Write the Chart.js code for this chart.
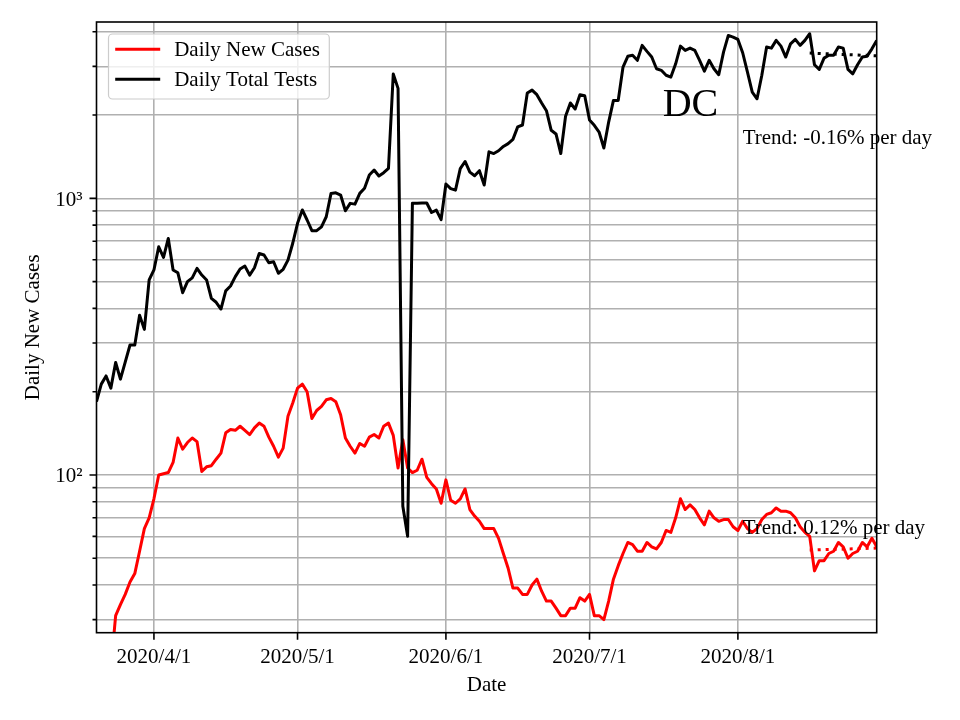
<!DOCTYPE html>
<html>
<head>
<meta charset="utf-8">
<script src="https://cdn.jsdelivr.net/npm/chart.js@4"></script>
<style>
  html, body { margin: 0; padding: 0; background: #fff; }
</style>
</head>
<body>
<canvas id="chart" width="960" height="720"></canvas>
<script>
// daily values, one per day starting at startDate
const startDate = "2020-03-20";

const newCases = [
  13, 15, 17, 20, 31, 34, 37, 41, 44, 53,
  64, 70, 82, 100, 101, 102, 111, 136, 124, 131,
  136, 132, 103, 107, 108, 114, 120, 142, 146, 145,
  150, 145, 140, 148, 154, 150, 137, 127, 116, 125,
  163, 182, 206, 213, 200, 160, 171, 177, 187, 189,
  184, 165, 136, 127, 120, 130, 127, 137, 140, 136,
  150, 154, 139, 106, 134, 106, 102, 104, 114, 98,
  93, 89, 79, 96, 81, 79, 82, 89, 75, 71,
  68, 64, 64, 64, 59, 52, 46, 39, 39, 37,
  37, 40, 42, 38, 35, 35, 33, 31, 31, 33,
  33, 36, 35, 37, 31, 31, 30, 35, 42, 47,
  52, 57, 56, 53, 53, 57, 55, 54, 57, 63,
  62, 70, 82, 75, 78, 75, 70, 66, 74, 70,
  68, 69, 69, 65, 63, 68, 64, 62, 64, 69,
  72, 73, 76, 74, 74, 73, 70, 65, 62, 60,
  45, 49, 49, 52, 53, 57, 55, 50, 52, 53,
  57, 55, 59, 55
];

const totalTests = [
  184, 213, 228, 206, 255, 222, 256, 295, 295, 378,
  336, 507, 551, 668, 612, 716, 551, 538, 456, 500,
  516, 558, 528, 507, 435, 421, 398, 463, 482, 521,
  555, 569, 528, 561, 632, 624, 585, 590, 536, 554,
  598, 688, 812, 908, 835, 764, 764, 789, 858, 1042,
  1047, 1028, 902, 959, 953, 1042, 1087, 1215, 1266, 1204,
  1238, 1283, 2814, 2498, 77, 60, 960, 960, 962, 962,
  889, 907, 838, 1127, 1084, 1071, 1280, 1359, 1244, 1207,
  1259, 1117, 1473, 1452, 1486, 1540, 1577, 1634, 1813, 1841,
  2404, 2462, 2370, 2212, 2074, 1762, 1709, 1452, 1982, 2212,
  2104, 2370, 2349, 1920, 1836, 1737, 1520, 1887, 2260, 2260,
  2983, 3262, 3289, 3155, 3573, 3398, 3242, 2940, 2903, 2786,
  2744, 3065, 3550, 3427, 3492, 3427, 3155, 2884, 3155, 2940,
  2799, 3379, 3881, 3828, 3755, 3360, 2860, 2422, 2291, 2786,
  3522, 3492, 3724, 3550, 3242, 3620, 3755, 3573, 3724, 3936,
  3040, 2926, 3214, 3289, 3289, 3522, 3492, 2926, 2820, 3040,
  3242, 3266, 3472, 3724
];

// fitted trend over the last two weeks
const trendDates = ["2020-08-16", "2020-08-30"];
const casesTrend = [53.5, 54.4];
const testsTrend = [3350, 3276];

const xTickDates = ["2020-04-01", "2020-05-01", "2020-06-01", "2020-07-01", "2020-08-01"];
const xTickLabels = ["2020/4/1", "2020/5/1", "2020/6/1", "2020/7/1", "2020/8/1"];
const yTicks = [30, 40, 50, 60, 70, 80, 90, 100, 200, 300, 400, 500, 600, 700, 800, 900, 1000, 2000, 3000, 4000];
const yTickLabels = { 100: "10\u00b2", 1000: "10\u00b3" };

const regionName = "DC";
const trendNotes = [
  { date: "2020-08-02", value: 1567, text: "Trend: -0.16% per day" },
  { date: "2020-08-02", value: 61, text: "Trend: 0.12% per day" },
];

const SERIF = '"Liberation Serif", "Times New Roman", serif';
const dayIndex = (d) => Math.round((Date.parse(d) - Date.parse(startDate)) / 86400000);
const toPoints = (vals) => vals.map((v, i) => ({ x: i, y: v }));
const trendPoints = (vals) => trendDates.map((d, i) => ({ x: dayIndex(d), y: vals[i] }));

const legendItems = [
  { label: "Daily New Cases", color: "#ff0000" },
  { label: "Daily Total Tests", color: "#000000" },
];

// spines, outward tick marks, legend box and text notes, matplotlib style
const decor = {
  id: "decor",
  afterDraw(chart) {
    const { ctx, chartArea: a, scales: { x, y } } = chart;
    ctx.save();

    ctx.strokeStyle = "#000";
    ctx.lineWidth = 1.6;
    ctx.beginPath();
    yTicks.forEach((v) => {
      const py = y.getPixelForValue(v);
      const len = yTickLabels[v] ? 7 : 4;
      ctx.moveTo(a.left - len, py);
      ctx.lineTo(a.left, py);
    });
    xTickDates.forEach((d) => {
      const px = x.getPixelForValue(dayIndex(d));
      ctx.moveTo(px, a.bottom);
      ctx.lineTo(px, a.bottom + 7);
    });
    ctx.stroke();
    ctx.strokeRect(a.left, a.top, a.right - a.left, a.bottom - a.top);

    // legend
    ctx.font = "21px " + SERIF;
    const lx = a.left + 12, ly = a.top + 12;
    const tw = Math.max(...legendItems.map((it) => ctx.measureText(it.label).width));
    const bw = 66 + tw + 9, bh = 65;
    ctx.beginPath();
    if (ctx.roundRect) ctx.roundRect(lx, ly, bw, bh, 4); else ctx.rect(lx, ly, bw, bh);
    ctx.fillStyle = "rgba(255,255,255,0.8)";
    ctx.fill();
    ctx.strokeStyle = "#cccccc";
    ctx.lineWidth = 1.2;
    ctx.stroke();
    legendItems.forEach((it, i) => {
      const cy = ly + 15.3 + i * 30;
      ctx.strokeStyle = it.color;
      ctx.lineWidth = 3;
      ctx.beginPath();
      ctx.moveTo(lx + 6.7, cy);
      ctx.lineTo(lx + 51.7, cy);
      ctx.stroke();
      ctx.fillStyle = "#000";
      ctx.textAlign = "left";
      ctx.textBaseline = "alphabetic";
      ctx.fillText(it.label, lx + 65.7, cy + 6.4);
    });

    // notes
    ctx.fillStyle = "#000";
    ctx.textAlign = "left";
    ctx.textBaseline = "alphabetic";
    ctx.font = "40px " + SERIF;
    ctx.fillText(regionName, a.left + 0.7257 * (a.right - a.left), a.top + 0.1544 * (a.bottom - a.top));
    ctx.font = "21px " + SERIF;
    trendNotes.forEach((n) => {
      ctx.fillText(n.text, x.getPixelForValue(dayIndex(n.date)), y.getPixelForValue(n.value));
    });
    ctx.restore();
  },
};

const font = { family: SERIF, size: 21 };
const gridStyle = { color: "#b0b0b0", lineWidth: 1.6, drawTicks: false };

new Chart(document.getElementById("chart"), {
  type: "line",
  data: {
    datasets: [
      { label: "Daily New Cases", data: toPoints(newCases), borderColor: "#ff0000", borderWidth: 3, pointRadius: 0, borderJoinStyle: "round", order: 2 },
      { label: "Daily Total Tests", data: toPoints(totalTests), borderColor: "#000000", borderWidth: 3, pointRadius: 0, borderJoinStyle: "round", order: 1 },
      { label: "cases trend", data: trendPoints(casesTrend), borderColor: "#ff0000", borderWidth: 3, borderDash: [3, 5], pointRadius: 0, order: 0 },
      { label: "tests trend", data: trendPoints(testsTrend), borderColor: "#000000", borderWidth: 3, borderDash: [3, 5], pointRadius: 0, order: 0 },
    ],
  },
  options: {
    responsive: false,
    animation: false,
    devicePixelRatio: 1,
    layout: { padding: { top: 22, right: 83.3, left: 0, bottom: 0 } },
    plugins: { legend: { display: false }, tooltip: { enabled: false } },
    scales: {
      x: {
        type: "linear",
        bounds: "data",
        min: 0,
        max: newCases.length - 1,
        afterBuildTicks: (s) => { s.ticks = xTickDates.map((d) => ({ value: dayIndex(d) })); },
        afterFit: (s) => { s.height = 87.3; s.paddingLeft = 0; s.paddingRight = 0; },
        ticks: { autoSkip: false, maxRotation: 0, padding: 12, color: "#000", font, callback: (v, i) => xTickLabels[i] },
        grid: gridStyle,
        border: { display: false },
        title: { display: true, text: "Date", color: "#000", font, padding: { top: 0, bottom: 22 } },
      },
      y: {
        type: "logarithmic",
        bounds: "data",
        min: 26.9,
        max: 4340,
        afterBuildTicks: (s) => { s.ticks = yTicks.map((v) => ({ value: v })); },
        afterFit: (s) => { s.width = 96.5; s.paddingTop = 0; s.paddingBottom = 0; },
        ticks: { autoSkip: false, padding: 14, labelOffset: 2, color: "#000", font, callback: (v) => yTickLabels[v] || "" },
        grid: gridStyle,
        border: { display: false },
        title: { display: true, text: "Daily New Cases", color: "#000", font, padding: { top: 21, bottom: 0 } },
      },
    },
  },
  plugins: [decor],
});
</script>
</body>
</html>
